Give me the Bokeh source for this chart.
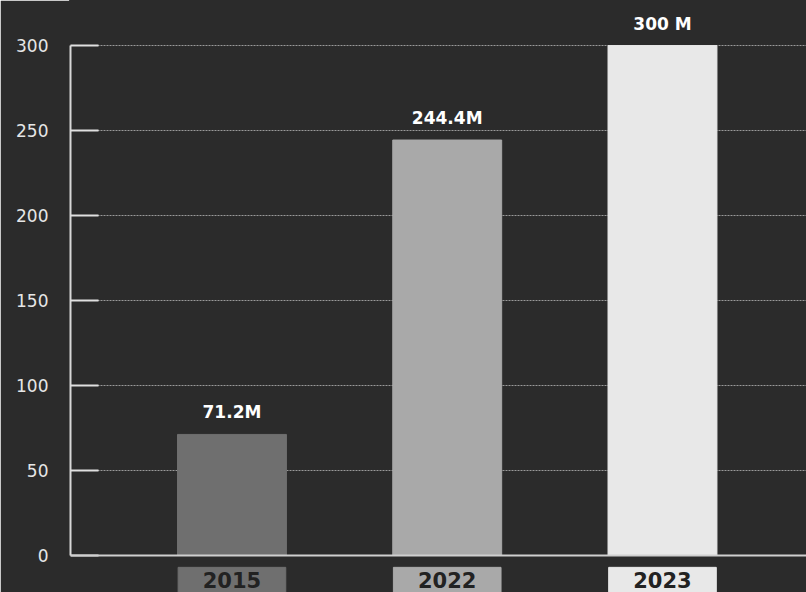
from bokeh.plotting import figure
from bokeh.models import Range1d, ColumnDataSource, Span, FixedTicker
from bokeh.core.properties import value
from bokeh.embed import file_html
from bokeh.resources import INLINE

years = ["2015", "2022", "2023"]
values = [71.2, 244.4, 300.0]
value_labels = ["71.2M", "244.4M", "300 M"]
bar_colors = ["#6f6f6f", "#a9a9a9", "#e8e8e8"]
y_ticks = [0, 50, 100, 150, 200, 250, 300]

xs = [1, 2, 3]
src = ColumnDataSource(dict(x=xs, top=values, lab=value_labels, year=years, color=bar_colors))

p = figure(width=806, height=592, output_backend="svg", toolbar_location=None,
           x_range=Range1d(0.25, 3.669), y_range=Range1d(-21.8, 326.5),
           min_border_left=70, min_border_right=0, min_border_top=0, min_border_bottom=0,
           background_fill_color="#2b2b2b", border_fill_color="#2b2b2b",
           outline_line_color="#2b2b2b", outline_line_width=3)

p.xaxis.visible = False
p.xgrid.visible = False

ax = p.yaxis[0]
ax.ticker = FixedTicker(ticks=y_ticks)
ax.bounds = (0, 300)
ax.axis_line_color = "#d8d8d8"
ax.axis_line_width = 2
ax.major_tick_in = 28
ax.major_tick_out = 0
ax.major_tick_line_color = "#e0e0e0"
ax.major_tick_line_width = 2
ax.minor_tick_line_color = None
ax.major_label_text_color = "#e6e6e6"
ax.major_label_text_font = "DejaVu Sans"
ax.major_label_text_font_size = "17px"
ax.major_label_standoff = 22

p.ygrid.ticker = FixedTicker(ticks=y_ticks)
p.ygrid.grid_line_color = "#9a9a9a"
p.ygrid.grid_line_dash = "2 1"
p.ygrid.grid_line_width = 1.2
p.ygrid.bounds = (0, 300)

p.vbar(x="x", top="top", bottom=0, width=0.506, color="color", source=src)

p.add_layout(Span(location=0, dimension="width", line_color="#cfcfcf", line_width=2))

p.text(x="x", y="top", text="lab", source=src, text_color="white", text_font=value("DejaVu Sans"),
       text_font_style="bold", text_font_size="17px", text_align="center", text_baseline="bottom",
       y_offset=-12)

# category label boxes below the baseline
p.vbar(x="x", top=-7.0, bottom=-30.0, width=0.5, color="color", source=src)
p.text(x="x", y=-14.6, text="year", source=src, text_color="#222222", text_font=value("DejaVu Sans"),
       text_font_style="bold", text_font_size="21px", text_align="center", text_baseline="middle")

open("out.html", "w").write(file_html(p, INLINE))
